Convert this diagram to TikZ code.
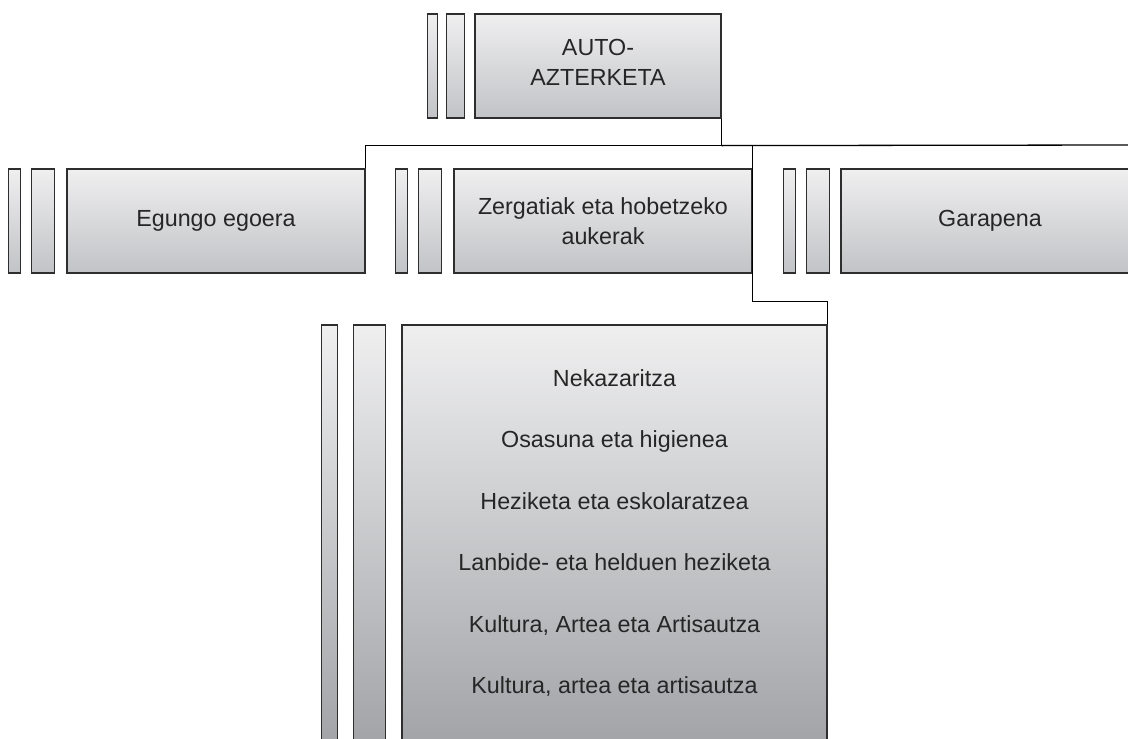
\documentclass[tikz,border=0pt]{standalone}
\usepackage{fontspec}
\setmainfont{Liberation Sans}
\usetikzlibrary{positioning}
\definecolor{boxtop}{HTML}{EFEFF0}
\definecolor{boxbot}{HTML}{C2C3C6}
\definecolor{deepbot}{HTML}{A2A4A7}
\definecolor{rule}{HTML}{2E2E2E}

\begin{document}
\begin{tikzpicture}[x=1pt, y=-1pt,
  mainbox/.style={draw=rule, line width=1.2pt, top color=boxtop, bottom color=boxbot, minimum width=298pt, minimum height=104pt, inner sep=0pt, align=center, text=black!85, font=\fontsize{23.3}{30}\selectfont},
  slat/.style={draw=rule, line width=1.2pt, top color=boxtop, bottom color=boxbot, minimum height=104pt, inner sep=0pt},
  link/.style={draw=black, line width=1.3pt}]
\useasboundingbox (0,0) rectangle (1128,739);
\clip (0,0) rectangle (1128,739);

\node (auto) [mainbox, minimum width=246pt, text depth=8pt] at (598,66) {AUTO-\\AZTERKETA};
\node (auto-b) [slat, minimum width=18pt, left=9pt of auto] {};
\node (auto-a) [slat, minimum width=10pt, left=8pt of auto-b] {};

\node (egungo) [mainbox] at (216,221) {Egungo egoera};
\node (egungo-b) [slat, minimum width=23pt, left=11pt of egungo] {};
\node (egungo-a) [slat, minimum width=12pt, left=10pt of egungo-b] {};

\node (zerg) [mainbox] at (603,221) {Zergatiak eta hobetzeko\\aukerak};
\node (zerg-b) [slat, minimum width=23pt, left=11pt of zerg] {};
\node (zerg-a) [slat, minimum width=12pt, left=10pt of zerg-b] {};

\node (garapena) [mainbox] at (990,221) {Garapena};
\node (garapena-b) [slat, minimum width=23pt, left=10pt of garapena] {};
\node (garapena-a) [slat, minimum width=12pt, left=10pt of garapena-b] {};

\node (fields) [mainbox, minimum width=425pt, minimum height=416pt, bottom color=deepbot, font=\fontsize{23.3}{61.4}\selectfont] at (614.5,533) {Nekazaritza\\Osasuna eta higienea\\Heziketa eta eskolaratzea\\Lanbide- eta helduen heziketa\\Kultura, Artea eta Artisautza\\Kultura, artea eta artisautza};
\node (fields-b) [slat, minimum width=32pt, minimum height=416pt, bottom color=deepbot, left=15pt of fields] {};
\node (fields-a) [slat, minimum width=16pt, minimum height=416pt, bottom color=deepbot, left=15pt of fields-b] {};

\coordinate (hub) at ([yshift=-27pt]auto.south east);
\coordinate (rim) at (1128,145);
\coordinate (elbow) at ([yshift=-28pt]zerg.south east);
\draw[link] (auto.south east) -- (hub);
\draw[link] (hub) -| (egungo.north east);
\draw[link] (hub) -- (rim);
\draw[link] (zerg.east |- hub) -- (elbow) -| (fields.north east);
\end{tikzpicture}
\end{document}
